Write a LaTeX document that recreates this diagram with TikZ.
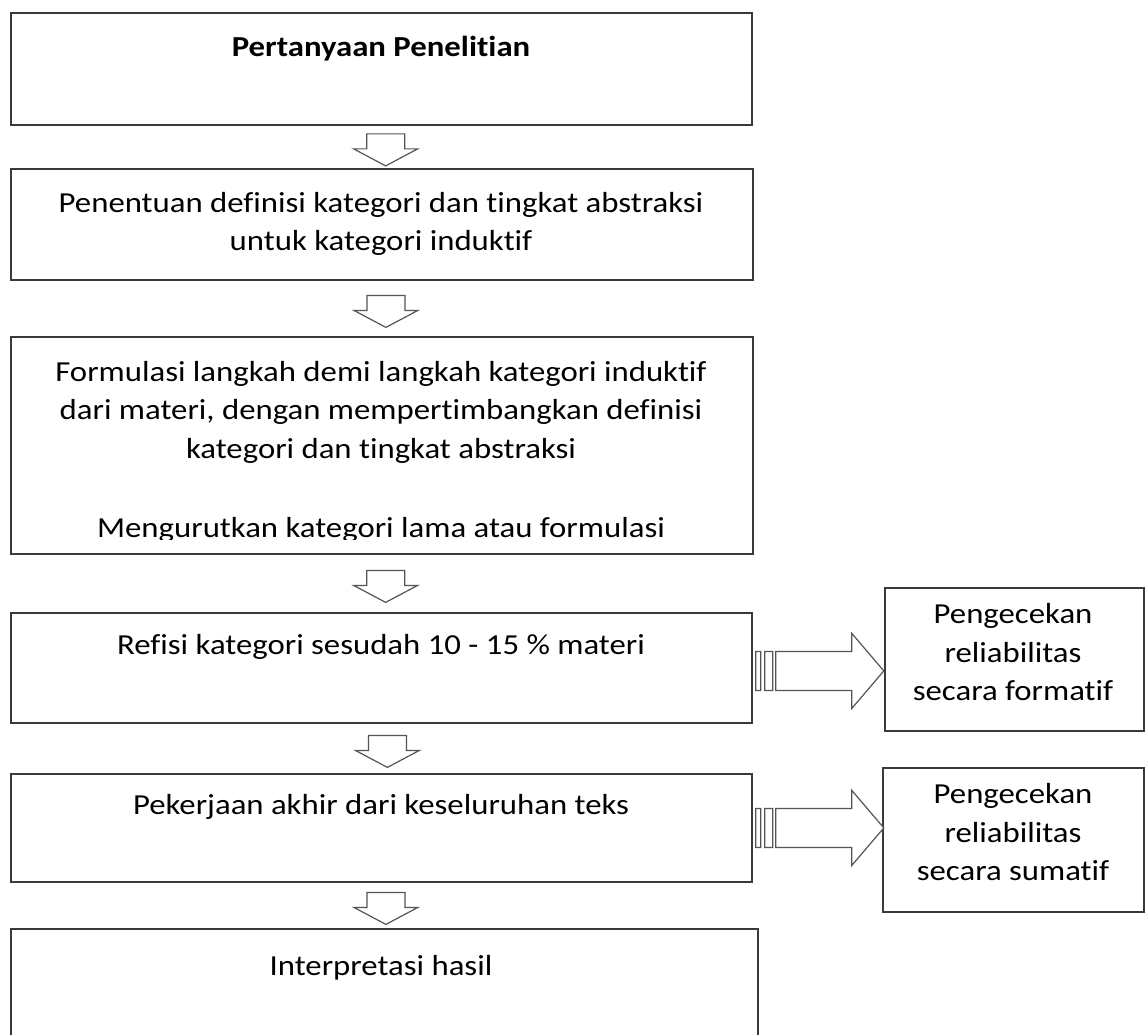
\documentclass[tikz,border=0pt]{standalone}
\usepackage{fontspec}
\setmainfont{Carlito}[FakeStretch=1.13, Ligatures={NoCommon}]
\usetikzlibrary{calc}
\definecolor{edge}{HTML}{3A3A3A}
\definecolor{arrowc}{HTML}{555555}
\begin{document}
\begin{tikzpicture}[x=1pt,y=-1pt,
  box/.style={draw=edge, line width=1.8pt, inner sep=0pt, anchor=north west},
  txt/.style={font=\fontsize{29pt}{38.5pt}\selectfont, anchor=base, inner sep=0pt, text=black},
  downarr/.pic={\draw[arrowc, line width=1.2pt, line join=miter, fill=white]
     (-19,-13) -- (19,-13) -- (19,2) -- (32,2) -- (0,19) -- (-32,2) -- (-19,2) -- cycle;},
  sidearr/.pic={\draw[arrowc, line width=1.2pt, line join=miter, fill=white]
     (3,-19.5) rectangle (8,19.5) (12,-19.5) rectangle (20,19.5)
     (23,-19.5) -- (99,-19.5) -- (99,-37.5) -- (131,0) -- (99,37.5) -- (99,19.5) -- (23,19.5) -- cycle;}
]
\clip (0,0) rectangle (1145,1035);
\fill[white] (0,0) rectangle (1145,1035);

% main boxes
\node[box, minimum width=741pt, minimum height=112pt] (b1) at (10,12) {};
\node[box, minimum width=742pt, minimum height=111pt] (b2) at (10,168) {};
\node[box, minimum width=742pt, minimum height=217pt] (b3) at (10,336) {};
\node[box, minimum width=741pt, minimum height=110pt] (b4) at (10,612) {};
\node[box, minimum width=741pt, minimum height=108pt] (b5) at (10,773) {};
\node[box, minimum width=747pt, minimum height=140pt] (b6) at (10,928) {};
% side boxes
\node[box, minimum width=259pt, minimum height=143pt] (r1) at (884,587) {};
\node[box, minimum width=261pt, minimum height=144pt] (r2) at (882,767) {};

% texts
\node[txt, font=\fontsize{29pt}{38.5pt}\selectfont\bfseries] (t1) at (381,57) {Pertanyaan Penelitian};
\node[txt] (t2a) at (381,212) {Penentuan definisi kategori dan tingkat abstraksi};
\node[txt] (t2b) at (381,250) {untuk kategori induktif};
\node[txt] (t3a) at (381,381) {Formulasi langkah demi langkah kategori induktif};
\node[txt] (t3b) at (381,419) {dari materi, dengan mempertimbangkan definisi};
\node[txt] (t3c) at (381,458) {kategori dan tingkat abstraksi};
\begin{scope}
  \clip (10,336) rectangle (752,539);
  \node[txt] (t3d) at (381,537) {Mengurutkan kategori lama atau formulasi};
\end{scope}
\node[txt] (t4) at (381,654) {Refisi kategori sesudah 10 - 15 \% materi};
\node[txt] (t5) at (381,814) {Pekerjaan akhir dari keseluruhan teks};
\node[txt] (t6) at (381,975) {Interpretasi hasil};
\node[txt] (r1a) at (1013,623) {Pengecekan};
\node[txt] (r1b) at (1013,662) {reliabilitas};
\node[txt] (r1c) at (1013,700) {secara formatif};
\node[txt] (r2a) at (1013,803) {Pengecekan};
\node[txt] (r2b) at (1013,842) {reliabilitas};
\node[txt] (r2c) at (1013,880) {secara sumatif};

% down block arrows
\pic at ($($(b1.south)!0.5!(b2.north)$)+(4,0)$) {downarr};
\pic at ($($(b2.south)!0.5!(b3.north)$)+(4,0)$) {downarr};
\pic at ($($(b3.south)!0.5!(b4.north)$)+(4,0)$) {downarr};
\pic at ($($(b4.south)!0.5!(b5.north)$)+(6,0)$) {downarr};
\pic at ($($(b5.south)!0.5!(b6.north)$)+(3,0)$) {downarr};

% side block arrows
\pic at ($(b4.east)+(0,3)$) {sidearr};
\pic at ($(b5.east)+(0,0)$) {sidearr};
\end{tikzpicture}
\end{document}
